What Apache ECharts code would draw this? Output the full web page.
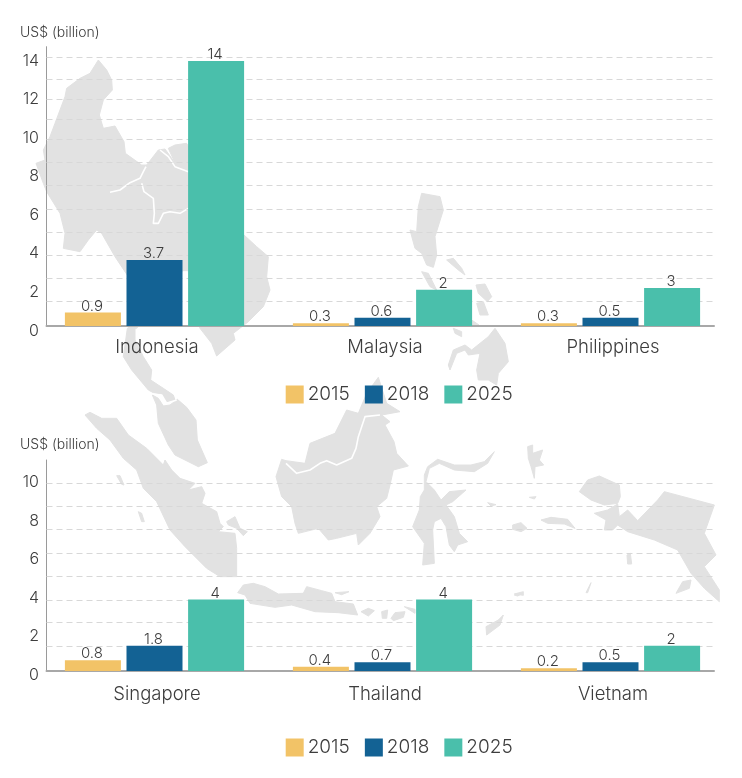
<!DOCTYPE html>
<html><head><meta charset="utf-8">
<style>html,body{margin:0;padding:0;background:#fff}#c{width:742px;height:778px}</style>
<script src="https://cdn.jsdelivr.net/npm/echarts@6/dist/echarts.min.js"></script>
</head><body><div id="c"></div>
<script>
// Printed data labels
const catsTop = ['Indonesia','Malaysia','Philippines'];
const catsBot = ['Singapore','Thailand','Vietnam'];
const years = ['2015','2018','2025'];
const printedTop2015 = ['0.9','0.3','0.3'];
const printedTop2018 = ['3.7','0.6','0.5'];
const printedTop2025 = ['14','2','3'];
const printedBot2015 = ['0.8','0.4','0.2'];
const printedBot2018 = ['1.8','0.7','0.5'];
const printedBot2025 = ['4','4','2'];
// Bar heights as they stand against the picture's y axis (the original is not drawn to its labels)
const barTop2015 = [0.945,0.384,0.384];
const barTop2018 = [3.67,0.675,0.675];
const barTop2025 = [14,2.12,2.22];
const barBot2015 = [0.76,0.43,0.35];
const barBot2018 = [1.52,0.66,0.66];
const barBot2025 = [3.92,3.92,1.52];
// Dashed rules, read in axis units
const rulesTop = [1.52,2.71,3.91,5.12,6.33,7.54,8.73,9.94,11.0,12.03,13.07,14.2];
const rulesBot = [1.51,2.72,3.90,5.12,6.33,7.56,8.75,9.96];

const colors = {'2015':'#F2C367','2018':'#136294','2025':'#4ABFAB'};
const FONT = 'Inter';
const TXT = '#3d3d3d';

// Decorative background map: [zoom-crop origin x, y, outlines traced at 3x]
const landSets = [
 [0,0,[[[295,180],[320,210],[335,240],[337,270],[310,300],[298,345],[310,385],[345,378],[372,425],[376,460],[425,495],[440,495],[475,450],[495,447],[515,475],[528,495],[505,445],[525,435],[560,430],[600,500],[600,700],[732,705],[770,740],[805,770],[800,830],[810,870],[790,920],[745,965],[700,1000],[705,1020],[650,1068],[635,1030],[600,985],[570,900],[565,812],[548,812],[410,985],[385,985],[385,830],[345,770],[305,700],[290,690],[265,720],[240,755],[190,745],[195,700],[180,640],[140,575],[130,550],[108,490],[135,480],[130,450],[150,410],[165,370],[195,290],[200,265],[240,235],[270,220]]]],
 [90,320,[[[112,25],[100,110],[125,150],[175,210],[190,218],[215,222],[230,245],[255,240],[250,225],[220,205],[182,180],[185,150],[160,110],[135,60],[135,22]],
  [[187,225],[205,235],[220,258],[240,255],[262,238],[290,262],[318,300],[322,360],[352,428],[325,440],[255,405],[235,375],[205,310],[200,255]]]],
 [270,370,[[[35,268],[18,320],[35,380],[65,410],[75,460],[85,490],[145,475],[175,510],[200,505],[260,490],[265,525],[300,490],[330,440],[320,410],[350,385],[360,345],[370,300],[415,288],[380,250],[372,215],[345,165],[360,155],[335,135],[390,125],[350,100],[325,22],[290,70],[265,130],[230,120],[195,190],[120,220],[105,280],[48,272]]]],
 [371,430,[[[370,65],[340,95],[300,105],[250,105],[200,88],[170,110],[160,135],[160,180],[148,200],[145,240],[125,290],[160,340],[155,405],[190,400],[185,300],[190,275],[210,265],[225,290],[235,345],[250,365],[260,345],[290,335],[265,310],[250,260],[225,225],[245,215],[285,180],[235,185],[210,210],[190,180],[165,155],[175,115],[205,100],[250,120],[310,125],[350,100]],
  [[470,50],[485,45],[485,70],[515,60],[505,90],[518,105],[492,110],[490,145],[480,110],[472,85]],
  [[510,270],[540,262],[590,268],[612,295],[580,282],[530,280]],
  [[425,285],[450,278],[468,295],[450,305],[425,298]],
  [[475,202],[495,200],[490,207]],[[350,218],[375,224],[360,228]],
  [[625,185],[650,150],[685,138],[745,165],[748,200],[740,220],[700,225],[660,210]],
  [[670,250],[710,240],[740,222],[745,260],[770,240],[800,272],[860,210],[880,185],[1030,225],[1000,310],[1035,375],[1000,410],[1045,480],[1045,515],[1000,475],[960,430],[920,360],[850,330],[770,305],[740,285],[725,300],[700,300],[705,270]],
  [[915,490],[935,455],[960,450],[955,475]],[[768,375],[778,370],[782,402],[770,402]],[[645,488],[660,458],[650,488]],[[430,495],[455,490],[440,498]]]],
 [60,405,[[[75,30],[90,22],[125,40],[170,40],[205,90],[260,130],[310,180],[315,165],[335,195],[360,220],[405,235],[385,255],[425,245],[435,265],[425,295],[470,320],[480,355],[490,365],[475,380],[525,385],[530,430],[530,515],[480,515],[440,490],[375,425],[330,375],[290,290],[250,250],[230,195],[190,160],[150,105],[110,70]],
  [[170,212],[180,212],[192,240],[185,238]],[[235,320],[245,325],[253,350],[245,350]],
  [[500,350],[525,335],[540,370],[562,380],[550,392],[530,370],[505,360]]]],
 [225,570,[[[38,68],[55,45],[85,40],[120,50],[160,72],[235,70],[245,50],[290,62],[320,70],[330,95],[385,102],[398,135],[340,128],[270,125],[200,105],[150,112],[75,100],[60,75]],
  [[408,125],[430,115],[448,122],[430,138]],[[470,125],[488,120],[485,145],[472,145]],[[498,145],[510,128],[540,125],[535,142],[505,152]],[[538,110],[570,130],[570,118]],[[330,68],[372,65],[350,74]],
  [[783,170],[820,150],[835,135],[825,165],[785,195]],[[868,72],[895,65],[895,76]]]],
 [400,180,[[[65,40],[120,50],[130,90],[105,170],[110,225],[100,262],[80,255],[65,220],[45,205],[30,150],[50,155],[55,80]],
  [[65,275],[85,280],[105,320],[110,330],[90,320]],[[140,240],[160,235],[185,265],[195,285],[175,270]],
  [[228,315],[255,312],[275,350],[262,365],[235,340]],[[230,370],[250,365],[265,405],[240,405]],[[215,420],[237,435],[215,440]],[[160,445],[185,455],[185,470],[165,460]],
  [[285,445],[315,490],[325,545],[295,580],[290,615],[265,600],[235,600],[230,570],[240,520],[205,525],[195,510],[170,520],[150,570],[145,555],[160,510],[195,495],[215,510],[265,470]]]]
];
const riverSets = [
 [60,130,[[[150,187],[180,180],[210,158],[240,145],[250,125],[258,110]],
  [[245,160],[252,185],[280,205],[283,250],[280,280],[295,280],[310,250],[330,245],[360,250],[385,235]],
  [[300,60],[325,80],[345,110],[385,125]]]],
 [270,370,[[[48,280],[80,310],[120,300],[150,280],[170,272],[200,285],[245,265],[258,235],[265,200],[275,170],[285,140],[330,135]]]],
 [90,320,[[[187,222],[215,225],[230,250],[260,240]]]]
];
const place = (ox,oy,pts) => pts.map(p => [ox + p[0]/3, oy + p[1]/3]);
const mapEls = [];
landSets.forEach(([ox,oy,list]) => list.forEach(pts => mapEls.push({type:'polygon',silent:true,z:-10,
  shape:{points:place(ox,oy,pts)},style:{fill:'#E2E2E2',stroke:'#E2E2E2',lineWidth:1,lineJoin:'round'}})));
riverSets.forEach(([ox,oy,list]) => list.forEach(pts => mapEls.push({type:'polyline',silent:true,z:-9,
  shape:{points:place(ox,oy,pts)},style:{stroke:'#fff',lineWidth:1.6,fill:null,lineJoin:'round'}})));

const panels = [
 {cats:catsTop, bars:[barTop2015,barTop2018,barTop2025], printed:[printedTop2015,printedTop2018,printedTop2025], rules:rulesTop,
  top:46.7, base:326, zero:330.7, unit:19.26, titleTop:26, legendTop:385, labelMargin:12},
 {cats:catsBot, bars:[barBot2015,barBot2018,barBot2025], printed:[printedBot2015,printedBot2018,printedBot2025], rules:rulesBot,
  top:460, base:671, zero:675, unit:19.25, titleTop:438, legendTop:738, labelMargin:14}
];
const grid=[],xAxis=[],yAxis=[],series=[],legend=[],title=[];
panels.forEach(p => {
  const maxV = (p.zero-p.top)/p.unit, minV = (p.zero-p.base)/p.unit;
  const ga = grid.length, gb = ga+1;
  // label + frame + rules grid
  grid.push({left:46.5,width:667.5,top:p.top,height:p.zero-p.top});
  // bars grid
  grid.push({left:40.5,width:684,top:p.top,height:p.base-p.top});
  xAxis.push({gridIndex:ga,type:'value',min:0,max:1,offset:-(p.zero-p.base),
    axisLine:{show:true,onZero:false,lineStyle:{color:'#a8a8a8',width:2}},axisTick:{show:false},axisLabel:{show:false},splitLine:{show:false}});
  yAxis.push({gridIndex:ga,type:'value',min:0,max:maxV,interval:2,
    axisLine:{show:false},axisTick:{show:false},splitLine:{show:false},
    axisLabel:{showMaxLabel:false,margin:7.5,color:TXT,fontFamily:FONT,fontWeight:300,fontSize:16,padding:[2,0,0,0]}});
  xAxis.push({gridIndex:gb,type:'category',data:p.cats,axisLine:{show:false},axisTick:{show:false},
    axisLabel:{margin:p.labelMargin,color:TXT,fontFamily:FONT,fontWeight:300,fontSize:18.5,padding:[0,0,0,5]}});
  yAxis.push({gridIndex:gb,type:'value',min:minV,max:maxV,offset:-6,
    axisLine:{show:true,onZero:false,lineStyle:{color:'#9a9a9a',width:1}},axisTick:{show:false},axisLabel:{show:false},splitLine:{show:false}});
  series.push({type:'scatter',xAxisIndex:ga,yAxisIndex:ga,data:[],silent:true,z:1,
    markLine:{silent:true,z:1,symbol:'none',animation:false,label:{show:false},
      lineStyle:{type:[6,4],color:'#d8d8d8',width:1},
      data:p.rules.map(v=>({yAxis:v}))}});
  years.forEach((yr,i)=>{
    const printed = p.printed[i];
    series.push({type:'bar',name:yr,xAxisIndex:gb,yAxisIndex:gb,data:p.bars[i],barWidth:56,barGap:'10%',z:3,clip:true,
      itemStyle:{color:colors[yr]},animation:false,
      label:{show:true,position:'top',distance:1,offset:[-1,2],color:TXT,fontFamily:FONT,fontWeight:300,fontSize:15,
        formatter:o=>printed[o.dataIndex]}});
  });
  legend.push({left:285.7,top:p.legendTop,padding:0,data:years,icon:'rect',itemWidth:18,itemHeight:18,itemGap:15,selectedMode:false,
    textStyle:{color:TXT,fontFamily:FONT,fontWeight:300,fontSize:19,padding:[2,0,0,-1]}});
  title.push({text:'US$ (billion)',left:20,top:p.titleTop,padding:0,textStyle:{color:TXT,fontFamily:FONT,fontWeight:300,fontSize:14}});
});
const chart = echarts.init(document.getElementById('c'),null,{renderer:'canvas'});
chart.setOption({animation:false,backgroundColor:'#fff',title,legend,grid,xAxis,yAxis,series,graphic:{elements:mapEls}});
</script></body></html>
